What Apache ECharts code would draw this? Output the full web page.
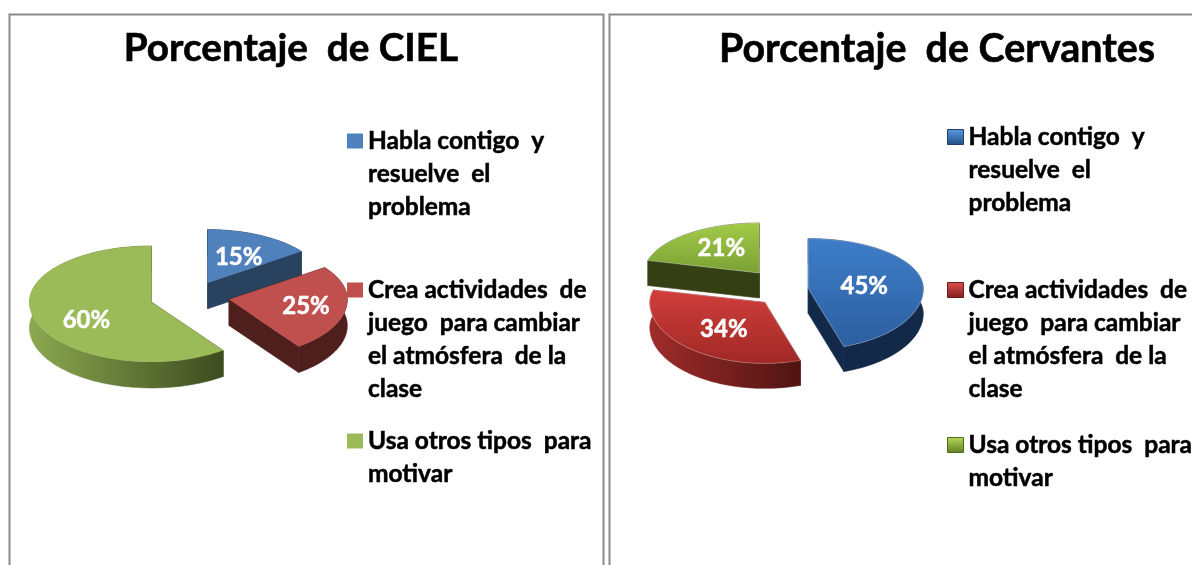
<!DOCTYPE html>
<html>
<head>
<meta charset="utf-8">
<style>html,body{margin:0;padding:0;background:#fff}#c{width:1192px;height:565px}</style>
<script src="https://cdn.jsdelivr.net/npm/echarts@6/dist/echarts.min.js"></script>
</head>
<body>
<div id="c"></div>
<script>
const categories = [
  "Habla contigo  y\nresuelve  el\nproblema",
  "Crea actividades  de\njuego  para cambiar\nel atmósfera  de la\nclase",
  "Usa otros tipos  para\nmotivar"
];
const titleCiel = "Porcentaje  de CIEL";
const titleCervantes = "Porcentaje  de Cervantes";
const cielValues = [15, 25, 60];
const cervantesValues = [45, 34, 21];

const FONT = "Lato, 'Open Sans', sans-serif";
const lg = (x, x2, a, b, y, y2, global) => new echarts.graphic.LinearGradient(x, y || 0, x2, y2 || 0,
  [{offset: 0, color: a}, {offset: 1, color: b}], global);

const charts = [
  {
    values: cielValues, cx: 189.5, cy: 297, k: 0.4, rx: 122, ryUp: 56, ryDown: 60, depth: 26,
    explode: [40, 40, 40], scale: [0.95, 0.97, 1],
    top: [() => '#4F81BD', () => '#C0504D', () => '#9BBB59'],
    wall: [() => '#28425F', () => '#4E1F1D', () => lg(28, 222, '#8CA950', '#3D4C1F', 0, 0, true)],
    labelOffset: [[31, -25], [77, 7], [-65, 18]],
    rim: null,
    titleX: 291, titleSize: 38.7, title: titleCiel,
    legendIconX: 347, legendLines: [141, 290, 441], iconSize: 16,
    legendColor: ['#4F81BD', '#C0504D', '#9BBB59'], legendBorder: null
  },
  {
    values: cervantesValues, cx: 782.6, cy: 291, k: 0.6, rx: 115, ryUp: 50, ryDown: 61, depth: 25,
    explode: [26, 26, 38], scale: [1, 1, 1],
    top: [() => lg(0, 0, '#3E7DC9', '#2C5F9F', 0, 1), () => lg(0, 0, '#D03E3B', '#A02826', 0, 1), () => lg(0, 0, '#A2CB48', '#7BA035', 0, 1)],
    wall: [() => '#12294A', () => lg(648, 802, '#A02C2A', '#4E1412', 0, 0, true), () => '#344014'],
    labelOffset: [[56, -2], [-41, 27], [-38, -25]],
    rim: 'rgba(255,255,255,0.28)',
    titleX: 937, titleSize: 39.4, title: titleCervantes,
    legendIconX: 947, legendLines: [137, 290, 445], iconSize: 16,
    legendColor: [lg(0, 0, '#5B9BE0', '#1F4E86', 0, 1), lg(0, 0, '#E0514C', '#7F1F1D', 0, 1), lg(0, 0, '#B5DB55', '#5F7F26', 0, 1)],
    legendBorder: ['#1F3F6B', '#6E1B19', '#4F6B1E']
  }
];

function pt(c, ax, ay, deg, sc) {
  const a = deg * Math.PI / 180, s = Math.sin(a), co = Math.cos(a);
  return [ax + sc * c.rx * s, ay - sc * (co > 0 ? c.ryUp : c.ryDown) * co];
}

function sliceRender(c, idx) {
  return function (params, api) {
    const total = c.values.reduce((p, q) => p + q, 0);
    let before = 0;
    for (let i = 0; i < idx; i++) before += c.values[i];
    const v = api.value(0);
    const a0 = before / total * 360, a1 = (before + v) / total * 360, mid = (a0 + a1) / 2 * Math.PI / 180;
    const e = c.explode[idx];
    const ax = c.cx + e * Math.sin(mid), ay = c.cy - e * c.k * Math.cos(mid);
    const arc = [];
    const steps = Math.max(12, Math.round(a1 - a0));
    for (let i = 0; i <= steps; i++) arc.push(pt(c, ax, ay, a0 + (a1 - a0) * i / steps, c.scale[idx]));
    const down = p => [p[0], p[1] + c.depth];
    const wallFill = c.wall[idx]();
    const wallStyle = {fill: wallFill, stroke: wallFill, lineWidth: 0.6};
    const first = arc[0], last = arc[arc.length - 1], apex = [ax, ay];
    const children = [
      {type: 'polygon', shape: {points: [apex, first, down(first), down(apex)]}, style: wallStyle},
      {type: 'polygon', shape: {points: [apex, last, down(last), down(apex)]}, style: wallStyle},
      {type: 'polygon', shape: {points: arc.concat(arc.slice().reverse().map(down))}, style: wallStyle},
      {type: 'polygon', shape: {points: [apex].concat(arc)},
        style: {fill: c.top[idx](), stroke: c.rim || 'transparent', lineWidth: c.rim ? 1 : 0}},
      {type: 'text', x: ax + c.labelOffset[idx][0], y: ay + c.labelOffset[idx][1],
        style: {text: v + '%', fill: '#fff', font: "bold 24px " + FONT, align: 'center', verticalAlign: 'middle',
          stroke: '#fff', lineWidth: 0.5}}
    ];
    return {type: 'group', children};
  };
}

const series = [], titles = [], legends = [];
const LINE = 33;
charts.forEach(c => {
  titles.push({text: c.title, left: c.titleX, top: 49, textAlign: 'center', textVerticalAlign: 'middle',
    textStyle: {fontFamily: FONT, fontWeight: 'bold', fontSize: c.titleSize, color: '#000', textBorderColor: '#000', textBorderWidth: 0.6}, padding: 0});
  categories.forEach((name, i) => {
    series.push({type: 'custom', name, coordinateSystem: 'none', data: [c.values[i]],
      renderItem: sliceRender(c, i), silent: true, animation: false,
      itemStyle: {color: c.legendColor[i]}});
    const n = name.split('\n').length;
    legends.push({
      left: c.legendIconX, top: c.legendLines[i] - (2 * n - 1) * LINE / 2, padding: 0,
      orient: 'vertical', selectedMode: false, itemWidth: c.iconSize, itemHeight: 15,
      icon: 'rect', itemGap: 0,
      data: [{name, itemStyle: {color: c.legendColor[i],
        borderColor: c.legendBorder ? c.legendBorder[i] : 'transparent', borderWidth: c.legendBorder ? 1 : 0}}],
      formatter: t => '\n'.repeat(t.split('\n').length - 1) + t,
      textStyle: {fontFamily: FONT, fontWeight: 'bold', fontSize: 24.5, lineHeight: LINE, color: '#000',
        textBorderColor: '#000', textBorderWidth: 0.5}
    });
  });
});

const frame = (x, w) => ({type: 'rect', silent: true, z: -1,
  shape: {x, y: 14.5, width: w, height: 600},
  style: {fill: 'transparent', stroke: '#8A8A8A', lineWidth: 2}});

const chart = echarts.init(document.getElementById('c'), null, {renderer: 'canvas'});
chart.setOption({
  animation: false,
  backgroundColor: '#fff',
  title: titles,
  legend: legends,
  tooltip: {show: false},
  graphic: [frame(9.5, 594), frame(609.5, 800)],
  series
});
</script>
</body>
</html>
